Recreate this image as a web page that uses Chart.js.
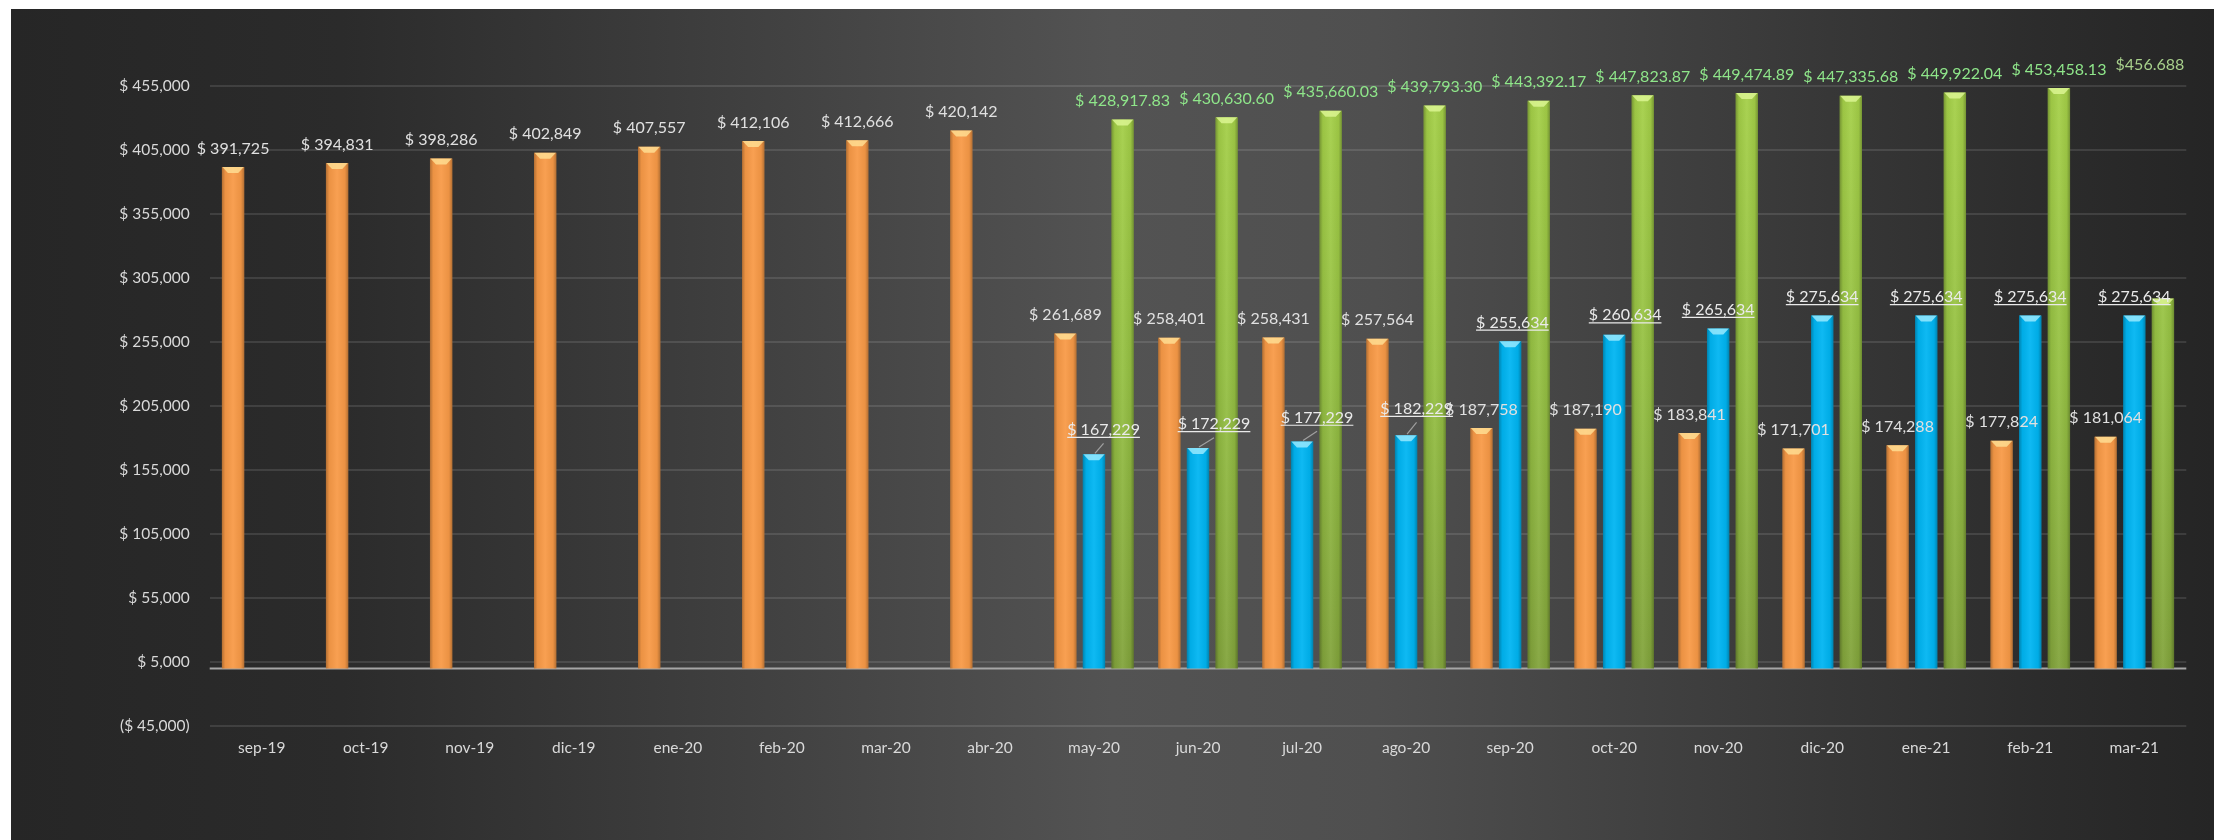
<!DOCTYPE html>
<html><head><meta charset="utf-8">
<script src="https://cdn.jsdelivr.net/npm/chart.js@4.4.1/dist/chart.umd.min.js"></script>
<style>html,body{margin:0;padding:0;background:#fff;overflow:hidden}canvas{display:block}</style>
</head><body>
<canvas id="c" width="2214" height="840"></canvas>
<script>
const categories = ['sep-19','oct-19','nov-19','dic-19','ene-20','feb-20','mar-20','abr-20','may-20','jun-20','jul-20','ago-20','sep-20','oct-20','nov-20','dic-20','ene-21','feb-21','mar-21'];
const orangeValues = [391725,394831,398286,402849,407557,412106,412666,420142,261689,258401,258431,257564,187758,187190,183841,171701,174288,177824,181064];
const blueValues = [null,null,null,null,null,null,null,null,167229,172229,177229,182229,255634,260634,265634,275634,275634,275634,275634];
const greenValues = [null,null,null,null,null,null,null,null,428917.83,430630.60,435660.03,439793.30,443392.17,447823.87,449474.89,447335.68,449922.04,453458.13,289000];
const yTickValues = [-45000,5000,55000,105000,155000,205000,255000,305000,355000,405000,455000];
const lastGreenLabelText = '$456.688';
const lastGreenLabelValue = 456688;

// label nudges (style, not data)
const blueLabelShift = {8:[9.6,-6,true],9:[16,-5.3,true],10:[15,-5.3,true],11:[10.5,-7.7,true],12:[2.3,0,false],13:[11,-1,false]};

const fmtInt = v => '$ ' + Math.round(v).toLocaleString('en-US');
const fmtDec = v => '$ ' + v.toLocaleString('en-US',{minimumFractionDigits:2,maximumFractionDigits:2});
const fmtTick = v => v < 0 ? '($ ' + Math.abs(v).toLocaleString('en-US') + ')' : '$ ' + v.toLocaleString('en-US');

const bgPlugin = {
  id:'bg',
  beforeDraw(chart){
    const ctx = chart.ctx, W = chart.width, H = chart.height;
    ctx.save();
    ctx.fillStyle = '#ffffff'; ctx.fillRect(0,0,W,H);
    const g = ctx.createLinearGradient(11,0,W,0);
    g.addColorStop(0,'#262626');
    g.addColorStop(0.15,'#2b2b2b');
    g.addColorStop(0.3,'#3c3c3c');
    g.addColorStop(0.5,'#535353');
    g.addColorStop(0.62,'#4f4f4f');
    g.addColorStop(0.8,'#3a3a3a');
    g.addColorStop(0.92,'#2c2c2c');
    g.addColorStop(1,'#252525');
    ctx.fillStyle = g; ctx.fillRect(11,9,W-11,H-9);
    ctx.restore();
  },
  beforeDatasetsDraw(chart){
    const ctx = chart.ctx, ys = chart.scales.y, ca = chart.chartArea;
    const y0 = ys.getPixelForValue(0);
    ctx.save();
    ctx.strokeStyle = '#a6a6a6'; ctx.lineWidth = 2;
    ctx.beginPath(); ctx.moveTo(ca.left, y0); ctx.lineTo(ca.right, y0); ctx.stroke();
    ctx.restore();
  }
};

const bevelPlugin = {
  id:'bevel',
  afterDatasetsDraw(chart){
    const ctx = chart.ctx;
    ctx.save();
    chart.data.datasets.forEach((ds,i)=>{
      const meta = chart.getDatasetMeta(i);
      meta.data.forEach((el,j)=>{
        if (ds.data[j] == null) return;
        const w = el.width, l = el.x - w/2, r = el.x + w/2, t = el.y, b = el.base;
        const g = ctx.createLinearGradient(l,0,r,0);
        g.addColorStop(0,'rgba(0,0,0,0.28)');
        g.addColorStop(0.15,'rgba(0,0,0,0.05)');
        g.addColorStop(0.5,'rgba(255,255,255,0.06)');
        g.addColorStop(0.85,'rgba(0,0,0,0.05)');
        g.addColorStop(1,'rgba(0,0,0,0.28)');
        ctx.fillStyle = g; ctx.fillRect(l,t,w,b-t);
        ctx.fillStyle = ds.capColor;
        ctx.beginPath();
        ctx.moveTo(l+0.5,t); ctx.lineTo(r-0.5,t); ctx.lineTo(r-w*0.27,t+6); ctx.lineTo(l+w*0.27,t+6); ctx.closePath();
        ctx.fill();
      });
    });
    ctx.restore();
  }
};

const labelPlugin = {
  id:'vlabels',
  afterDatasetsDraw(chart){
    const ctx = chart.ctx, ys = chart.scales.y;
    ctx.save();
    ctx.font = '16px Lato';
    ctx.textAlign = 'center';
    ctx.textBaseline = 'alphabetic';
    chart.data.datasets.forEach((ds,i)=>{
      const meta = chart.getDatasetMeta(i);
      meta.data.forEach((el,j)=>{
        const v = ds.data[j];
        if (v == null) return;
        let text = ds.fmt(v);
        let cx = el.x, cy = el.y - 19;
        let color = ds.labelColor;
        if (ds.isGreen && j === greenValues.length - 1) {
          text = lastGreenLabelText;
          cy = ys.getPixelForValue(lastGreenLabelValue) - 19;
          cx = el.x - 13;
          color = '#a8d08c';
        }
        let leader = false;
        if (ds.shifts && ds.shifts[j]) {
          cx += ds.shifts[j][0]; cy += ds.shifts[j][1]; leader = ds.shifts[j][2];
        }
        ctx.fillStyle = color;
        ctx.fillText(text, cx, cy + 5.6);
        if (ds.underline) {
          const tw = ctx.measureText(text).width;
          const uy = cy + 8;
          ctx.strokeStyle = color; ctx.lineWidth = 1.2;
          ctx.beginPath(); ctx.moveTo(cx - tw/2, uy); ctx.lineTo(cx + tw/2, uy); ctx.stroke();
          if (leader) {
            ctx.strokeStyle = '#a0a0a0'; ctx.lineWidth = 1.2;
            ctx.beginPath(); ctx.moveTo(el.x + 1, el.y - 1); ctx.lineTo(cx, uy + 6); ctx.stroke();
          }
        }
      });
    });
    ctx.restore();
  }
};

const greenFill = (c) => {
  const ca = c.chart.chartArea;
  if (!ca) return '#92c042';
  const g = c.chart.ctx.createLinearGradient(0, ca.top, 0, ca.bottom);
  g.addColorStop(0,'#a5d048');
  g.addColorStop(0.45,'#95c043');
  g.addColorStop(1,'#7e9e3a');
  return g;
};

new Chart(document.getElementById('c'), {
  type:'bar',
  data:{
    labels: categories,
    datasets:[
      {data: orangeValues, backgroundColor:'#f89a47', capColor:'rgba(255,225,150,0.8)', fmt: fmtInt, labelColor:'#e0e0e0'},
      {data: blueValues, backgroundColor:'#00b5f2', capColor:'rgba(160,236,255,0.8)', fmt: fmtInt, labelColor:'#eaeaea', underline:true, shifts: blueLabelShift},
      {data: greenValues, backgroundColor: greenFill, capColor:'rgba(222,248,150,0.8)', fmt: fmtDec, labelColor:'#8fe68a', isGreen:true}
    ]
  },
  options:{
    responsive:false,
    animation:false,
    events:[],
    layout:{padding:{top:86,right:27.7,bottom:0,left:0}},
    datasets:{bar:{categoryPercentage:0.826, barPercentage:0.78}},
    plugins:{legend:{display:false}, tooltip:{enabled:false}, title:{display:false}},
    scales:{
      x:{
        grid:{display:false, drawTicks:false},
        border:{display:false},
        ticks:{color:'#d9d9d9', font:{family:'Lato', size:15.5}, padding:13, maxRotation:0, autoSkip:false},
        afterFit(s){ s.height = 114; }
      },
      y:{
        min:-45000, max:455000,
        grid:{color:'rgba(255,255,255,0.11)', lineWidth:2, drawTicks:false},
        border:{display:false},
        ticks:{color:'#d9d9d9', font:{family:'Lato', size:15.5}, padding:20, callback: v => fmtTick(v)},
        afterBuildTicks(s){ s.ticks = yTickValues.map(v => ({value:v})); },
        afterFit(s){ s.width = 209.7; }
      }
    }
  },
  plugins:[bgPlugin, bevelPlugin, labelPlugin]
});
</script>
</body></html>
